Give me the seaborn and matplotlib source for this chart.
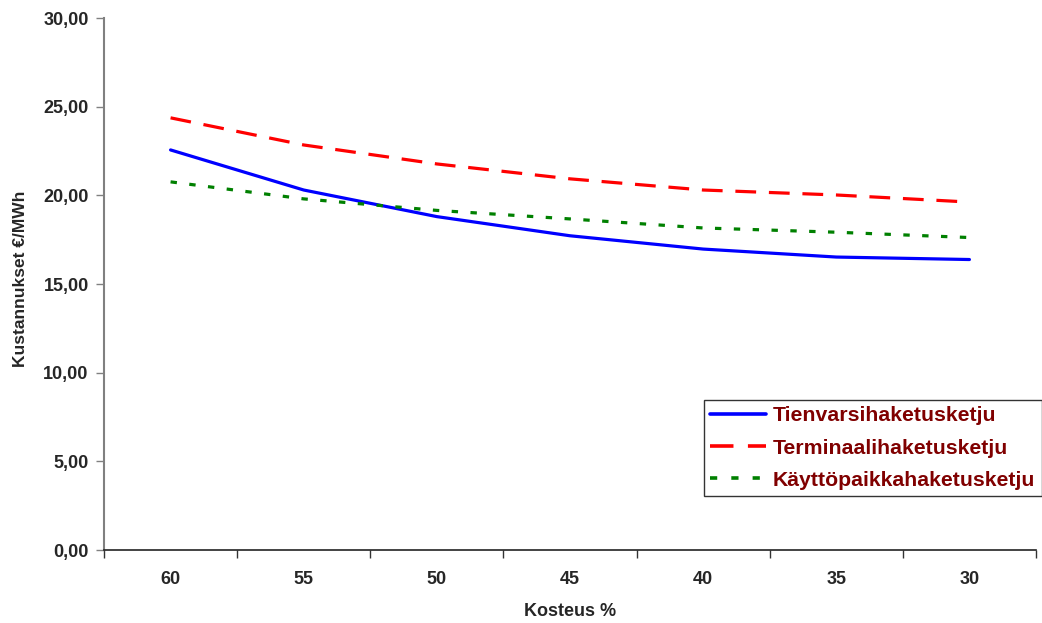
import matplotlib
matplotlib.use("Agg")
import matplotlib.pyplot as plt
import seaborn as sns
import pandas as pd
from matplotlib.ticker import FixedLocator

categories = ["60", "55", "50", "45", "40", "35", "30"]
tienvarsi = [22.56, 20.30, 18.80, 17.72, 16.97, 16.52, 16.38]
terminaali = [24.37, 22.84, 21.77, 20.93, 20.30, 20.02, 19.62]
kayttopaikka = [20.76, 19.80, 19.15, 18.67, 18.16, 17.92, 17.62]
series_names = ["Tienvarsihaketusketju", "Terminaalihaketusketju", "Käyttöpaikkahaketusketju"]
y_ticks = [0, 5, 10, 15, 20, 25, 30]
y_tick_labels = ["0,00", "5,00", "10,00", "15,00", "20,00", "25,00", "30,00"]

df = pd.DataFrame({
    "Kosteus": categories * 3,
    "value": tienvarsi + terminaali + kayttopaikka,
    "series": [series_names[0]] * 7 + [series_names[1]] * 7 + [series_names[2]] * 7,
})

sns.set_theme(style="white")
plt.rcParams["font.family"] = ["Liberation Sans", "DejaVu Sans"]

fig = plt.figure(figsize=(10.42, 6.23), dpi=100)
ax = fig.add_axes([104 / 1042, 73 / 623, (1036 - 104) / 1042, (550 - 18) / 623])

palette = {series_names[0]: "#0000FF", series_names[1]: "#FF0000", series_names[2]: "#008000"}
dashes = {series_names[0]: "", series_names[1]: (6.5, 4), series_names[2]: (2, 3.9)}

sns.lineplot(data=df, x="Kosteus", y="value", hue="series", style="series",
             palette=palette, dashes=dashes, linewidth=2.3, ax=ax, sort=False,
             legend=True)

ax.set_xlim(-0.5, 6.5)
ax.set_ylim(0, 30)
ax.set_yticks(y_ticks)
ax.set_yticklabels(y_tick_labels, fontsize=13, fontweight="bold")
ax.set_xticks(range(len(categories)))
ax.set_xticklabels(categories, fontsize=13, fontweight="bold")
ax.xaxis.set_minor_locator(FixedLocator([i - 0.5 for i in range(len(categories) + 1)]))
ax.tick_params(axis="x", which="major", length=0, pad=15)
ax.tick_params(axis="x", which="minor", length=6, width=1, color="#333333", direction="out", bottom=True)
ax.tick_params(axis="y", which="major", length=6, width=1, color="#808080", direction="out", left=True, pad=5)

for s in ["top", "right"]:
    ax.spines[s].set_visible(False)
ax.spines["left"].set_color("#808080")
ax.spines["left"].set_linewidth(1.5)
ax.spines["bottom"].set_color("#222222")
ax.spines["bottom"].set_linewidth(1.2)

ax.set_xlabel("Kosteus %", fontsize=13, fontweight="bold", va="center")
ax.xaxis.set_label_coords(0.5, (550 - 612) / 532)
ax.set_ylabel("Kustannukset €/MWh", fontsize=12.5, fontweight="bold")
ax.yaxis.set_label_coords((28 - 104) / 932, 0.51)

handles, labels = ax.get_legend_handles_labels()
ax.get_legend().remove()
for h in handles:
    h.set_linewidth(2.6)
leg = fig.legend(handles, labels, loc="upper left", bbox_to_anchor=(704 / 1042, 1 - 400 / 623),
                 frameon=True, fancybox=False, shadow=False, handlelength=2.6,
                 prop={"weight": "bold", "size": 15.3}, borderpad=0.3, labelspacing=0.62,
                 handletextpad=0.35, borderaxespad=0)
leg.get_frame().set_edgecolor("black")
leg.get_frame().set_linewidth(1.0)
for t in leg.get_texts():
    t.set_color("#800000")

fig.savefig("out.png", dpi=100)
